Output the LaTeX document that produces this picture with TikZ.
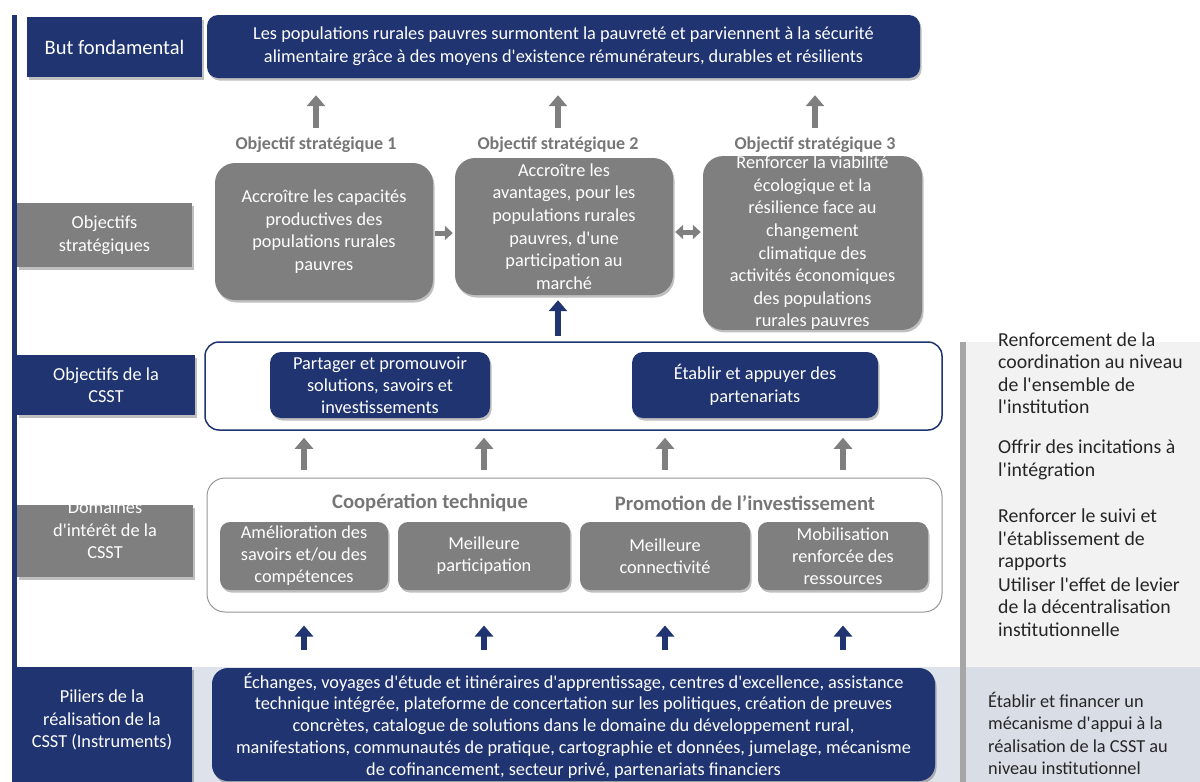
\documentclass[tikz,border=0pt]{standalone}
\usepackage{fontspec}
\setmainfont{Carlito}[Ligatures=TeXOff]
\usetikzlibrary{arrows.meta,shadows}
\definecolor{navy}{RGB}{31,52,112}
\definecolor{boxgray}{RGB}{127,127,127}
\definecolor{headgray}{RGB}{118,118,118}
\definecolor{paneltop}{RGB}{242,242,242}
\definecolor{panelbot}{RGB}{217,221,230}
\definecolor{bandcol}{RGB}{222,226,234}
\definecolor{bargray}{RGB}{166,166,166}
\definecolor{domline}{RGB}{150,150,150}
\tikzset{
  shd/.style={drop shadow={shadow xshift=1.5pt,shadow yshift=-2.5pt,opacity=0.25,fill=black}},
  boxbase/.style={inner sep=0pt,align=center,text=white},
  navybox/.style={boxbase,fill=navy,rounded corners=11pt,shd},
  navysq/.style={boxbase,fill=navy,shd},
  graysq/.style={boxbase,fill=boxgray,shd},
  osbox/.style={boxbase,fill=boxgray,rounded corners=20pt,shd,font=\fontsize{18.3}{22.6}\selectfont},
  dombox/.style={boxbase,fill=boxgray,rounded corners=10pt,shd,font=\fontsize{18.3}{22}\selectfont},
  oshead/.style={inner sep=0pt,text=headgray,font=\bfseries\fontsize{18}{20}\selectfont},
  bighead/.style={inner sep=0pt,text=headgray,font=\bfseries\fontsize{20.6}{22}\selectfont},
  labfont/.style={font=\fontsize{18.3}{22.5}\selectfont},
  sidetext/.style={inner sep=0pt,align=left,anchor=west,text=black!85,font=\fontsize{19.8}{22.5}\selectfont},
  garrow/.style={draw=boxgray,line width=6.5pt,-{Triangle[width=18pt,length=11pt]}},
  narrow/.style={draw=navy,line width=6.5pt,-{Triangle[width=18pt,length=11pt]}},
  harrow/.style={draw=boxgray,line width=5pt,-{Triangle[width=14pt,length=8pt]}},
  dharrow/.style={draw=boxgray,line width=5pt,{Triangle[width=14pt,length=8pt]}-{Triangle[width=14pt,length=8pt]}},
}
\begin{document}
\begin{tikzpicture}[x=1pt,y=-1pt]
\useasboundingbox (0,0) rectangle (1200,782);
% backgrounds
\fill[bandcol] (12,667) rectangle (960,782);
\fill[paneltop] (966,342) rectangle (1200,667);
\fill[panelbot] (966,667) rectangle (1200,782);
\fill[bargray] (960,342) rectangle (966,782);
\fill[navy] (12,15) rectangle (17,667);

% top row
\node[navysq,minimum width=175pt,minimum height=60pt,font=\fontsize{20.5}{23}\selectfont] (butf) at (114.5,47) {But fondamental};
\node[navybox,minimum width=713pt,minimum height=63pt,font=\fontsize{18.3}{23}\selectfont] (goal) at (563.5,46.5)
 {Les populations rurales pauvres surmontent la pauvreté et parviennent à la sécurité\\alimentaire grâce à des moyens d'existence rémunérateurs, durables et résilients};

% strategic objectives
\node[graysq,labfont,minimum width=175pt,minimum height=64pt] (lab2) at (104.5,235) {Objectifs\\stratégiques};
\node[oshead] (h1) at (316,145) {Objectif stratégique 1};
\node[oshead] (h2) at (558,145) {Objectif stratégique 2};
\node[oshead] (h3) at (815,145) {Objectif stratégique 3};
\node[osbox,minimum width=218pt,minimum height=137pt] (os1) at (324,231.5) {Accroître les capacités\\productives des\\populations rurales\\pauvres};
\node[osbox,minimum width=218pt,minimum height=137pt] (os2) at (564,226.5) {Accroître les\\avantages, pour les\\populations rurales\\pauvres, d'une\\participation au\\marché};
\node[osbox,minimum width=219pt,minimum height=170pt] (os3) at (812.5,243) {Renforcer la viabilité\\écologique et la\\résilience face au\\changement\\climatique des\\activités économiques\\des populations\\rurales pauvres};

% CSST objectives
\node[navysq,labfont,minimum width=178pt,minimum height=60pt] (lab3) at (106,385) {Objectifs de la\\CSST};
\node[draw=navy,line width=1.5pt,fill=white,rounded corners=14pt,minimum width=737pt,minimum height=88pt,inner sep=0pt] (cont) at (573.5,386) {};
\node[navybox,minimum width=220pt,minimum height=66pt,font=\fontsize{18.3}{22}\selectfont] (part) at (380,385) {Partager et promouvoir\\solutions, savoirs et\\investissements};
\node[navybox,minimum width=246pt,minimum height=66pt,font=\fontsize{18.3}{22.5}\selectfont] (etab) at (755,385) {Établir et appuyer des\\partenariats};

% domains
\node[graysq,minimum width=176pt,minimum height=72pt] (lab4) at (105,541) {};
\begin{scope}
\clip (17,505) rectangle (193,577);
\node[boxbase,labfont] (lab4t) at (105,530) {Domaines\\d'intérêt de la\\CSST};
\end{scope}
\node[draw=domline,line width=1pt,fill=white,rounded corners=18pt,minimum width=735pt,minimum height=134pt,inner sep=0pt] (dom) at (574.5,545) {};
\node[bighead] (ct) at (430,503) {Coopération technique};
\node[bighead] (pi) at (745,503) {Promotion de l’investissement};
\node[dombox,minimum width=168pt,minimum height=68pt] (d1) at (304,556) {Amélioration des\\savoirs et/ou des\\compétences};
\node[dombox,minimum width=172pt,minimum height=68pt] (d2) at (484,556) {Meilleure\\participation};
\node[dombox,minimum width=170pt,minimum height=68pt] (d3) at (665,556) {Meilleure\\connectivité};
\node[dombox,minimum width=170pt,minimum height=68pt] (d4) at (843,556) {Mobilisation\\renforcée des\\ressources};

% pillars
\node[navysq,minimum width=180pt,minimum height=115pt] (pil) at (102,724.5) {};
\node[boxbase,labfont] (pilt) at (102,720) {Piliers de la\\réalisation de la\\CSST (Instruments)};
\node[navybox,rounded corners=16pt,minimum width=723pt,minimum height=113pt] (ech) at (573.5,724.5) {};
\node[boxbase,font=\fontsize{18.3}{21.8}\selectfont] (echt) at (573.5,725.5) {Échanges, voyages d'étude et itinéraires d'apprentissage, centres d'excellence, assistance\\technique intégrée, plateforme de concertation sur les politiques, création de preuves\\concrètes, catalogue de solutions dans le domaine du développement rural,\\manifestations, communautés de pratique, cartographie et données, jumelage, mécanisme\\de cofinancement, secteur privé, partenariats financiers};

% right column
\node[sidetext] (r1) at (998,373) {Renforcement de la\\coordination au niveau\\de l'ensemble de\\l'institution};
\node[sidetext] (r2) at (998,460) {Offrir des incitations à\\l'intégration};
\node[sidetext] (r3) at (998,540) {Renforcer le suivi et\\l'établissement de\\rapports};
\node[sidetext] (r4) at (998,607) {Utiliser l'effet de levier\\de la décentralisation\\institutionnelle};
\node[sidetext,font=\fontsize{18.3}{22.3}\selectfont] (r5) at (988,733.5) {Établir et financer un\\mécanisme d'appui à la\\réalisation de la CSST au\\niveau institutionnel};

% arrows
\draw[garrow,shorten <=9pt,shorten >=17pt] (h1.north) -- (h1.north |- goal.south);
\draw[garrow,shorten <=9pt,shorten >=17pt] (h2.north) -- (h2.north |- goal.south);
\draw[garrow,shorten <=9pt,shorten >=17pt] (h3.north) -- (h3.north |- goal.south);
\draw[harrow,shorten <=2pt,shorten >=2pt] ([yshift=-1.5pt]os1.east) -- ([yshift=-1.5pt]os1.east -| os2.west);
\draw[dharrow,shorten <=2pt,shorten >=2pt] ([yshift=-5.5pt]os2.east) -- ([yshift=-5.5pt]os2.east -| os3.west);
\draw[narrow,shorten <=5pt,shorten >=5pt] (h2.north |- cont.north) -- (h2.north |- os2.south);
\foreach \d in {d1,d2,d3,d4}{
  \draw[garrow,shorten <=8pt,shorten >=7pt] (\d |- dom.north) -- (\d |- cont.south);
  \draw[narrow,shorten <=18pt,shorten >=13pt] (\d |- ech.north) -- (\d |- dom.south);
}
\end{tikzpicture}
\end{document}
